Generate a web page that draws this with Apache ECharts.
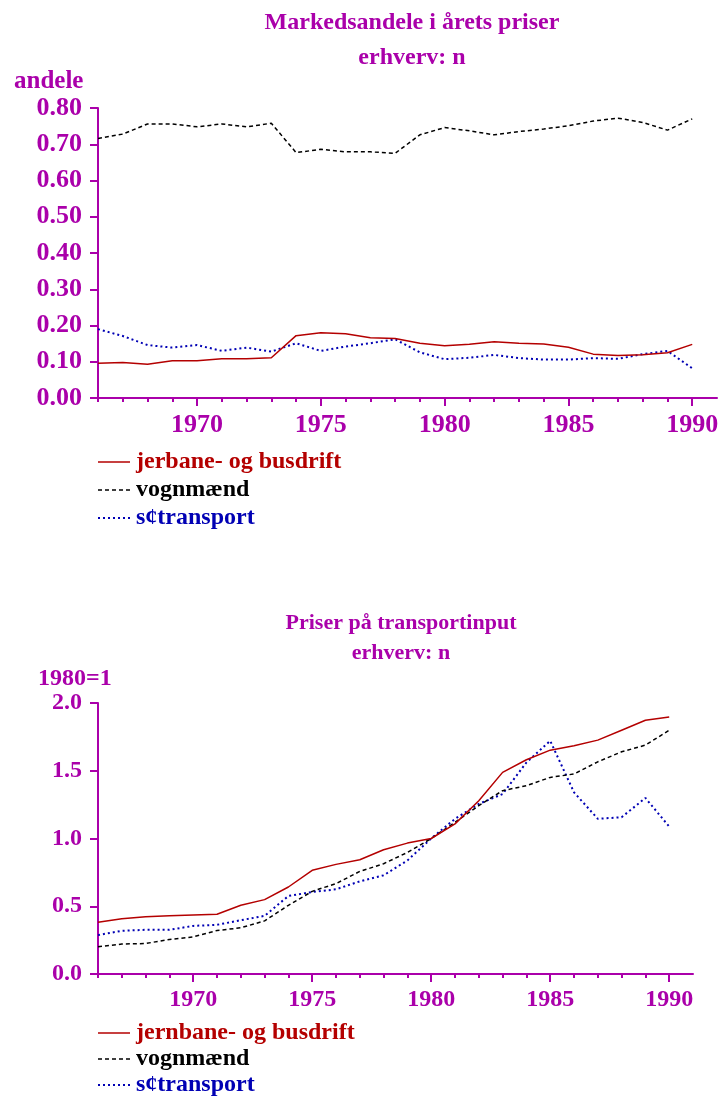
<!DOCTYPE html>
<html><head><meta charset="utf-8">
<script src="https://cdn.jsdelivr.net/npm/echarts@6/dist/echarts.min.js"></script>
<style>html,body{margin:0;padding:0;background:#fff;width:722px;height:1097px;overflow:hidden}
#a{position:absolute;left:0;top:0;width:722px;height:560px}
#b{position:absolute;left:0;top:560px;width:722px;height:537px}</style>
</head><body><div id="a"></div><div id="b"></div>
<script>
const years = [1966,1967,1968,1969,1970,1971,1972,1973,1974,1975,1976,1977,1978,1979,1980,1981,1982,1983,1984,1985,1986,1987,1988,1989,1990];
const majorYears = [1970,1975,1980,1985,1990];
// Chart 1: Markedsandele i årets priser
const shareRail = [0.096,0.098,0.093,0.103,0.103,0.108,0.108,0.111,0.172,0.180,0.177,0.166,0.164,0.151,0.144,0.148,0.155,0.151,0.149,0.140,0.121,0.117,0.119,0.125,0.148];
const shareTruck = [0.716,0.728,0.756,0.756,0.748,0.756,0.748,0.758,0.677,0.686,0.679,0.679,0.675,0.726,0.746,0.737,0.726,0.735,0.742,0.751,0.764,0.772,0.760,0.739,0.770];
const shareSea = [0.190,0.171,0.146,0.139,0.146,0.130,0.139,0.128,0.151,0.130,0.142,0.151,0.162,0.126,0.107,0.111,0.119,0.110,0.106,0.106,0.110,0.108,0.121,0.130,0.082];
// Chart 2: Priser på transportinput (1980=1)
const priceRail = [0.382,0.407,0.422,0.429,0.436,0.441,0.507,0.549,0.642,0.765,0.809,0.843,0.917,0.966,1.000,1.108,1.279,1.488,1.581,1.652,1.684,1.726,1.799,1.873,1.897];
const priceTruck = [0.201,0.221,0.225,0.255,0.274,0.321,0.341,0.392,0.507,0.610,0.667,0.757,0.814,0.897,1.000,1.120,1.243,1.353,1.390,1.451,1.476,1.566,1.640,1.689,1.799];
const priceSea = [0.287,0.319,0.326,0.326,0.355,0.363,0.397,0.429,0.576,0.605,0.625,0.684,0.728,0.838,1.000,1.145,1.255,1.328,1.561,1.721,1.341,1.145,1.157,1.299,1.088];

const names1 = ['jerbane- og busdrift','vognmænd','s¢transport'];
const names2 = ['jernbane- og busdrift','vognmænd','s¢transport'];

const MAG = '#aa00aa', RED = '#b40000', BLUE = '#0000b4', BLK = '#000000';
const FONT = '"Liberation Serif","Times New Roman",serif';
const pairs = arr => years.map((y,i)=>[y,arr[i]]);

function build(cfg){
  const styles = [
    {color:RED, type:'solid', width:1.5},
    {color:BLK, type:[4,3], width:1.5},
    {color:BLUE, type:[2,3], width:2}
  ];
  const dashes = [null, [4,3], [2,3]];
  const cols = [RED, BLK, BLUE];
  const legendEls = [];
  cfg.names.forEach((n,i)=>{
    const y = cfg.legendRows[i];
    legendEls.push({type:'line', shape:{x1:98, y1:y, x2:130, y2:y},
      style:{stroke:cols[i], lineWidth:i===2?2:1.5, lineDash:dashes[i]}});
    legendEls.push({type:'text', x:136, y:y,
      style:{text:n, font:'bold '+cfg.legendSize+'px '+FONT, fill:cols[i], textVerticalAlign:'middle', textAlign:'left'}});
  });
  return {
    animation:false,
    title:{text:cfg.title, left:cfg.titleX, top:cfg.titleTop, textAlign:'center',
      textStyle:{fontFamily:FONT, fontWeight:'bold', fontSize:cfg.titleSize, color:MAG, lineHeight:cfg.titleLH}},
    graphic:[{type:'text', left:cfg.unitX, top:cfg.unitTop,
      style:{text:cfg.unit, font:'bold '+cfg.unitSize+'px '+FONT, fill:MAG}}].concat(legendEls),
    grid:{left:98, top:cfg.gridTop, width:cfg.gridW, height:cfg.gridH, containLabel:false},
    xAxis:[
      {type:'value', min:1966, max:1991, gridIndex:0,
        axisLine:{show:true, lineStyle:{color:MAG, width:2}},
        axisTick:{show:true, customValues:years, length:4, lineStyle:{color:MAG, width:2}},
        axisLabel:{customValues:majorYears, color:MAG, fontFamily:FONT, fontWeight:'bold', fontSize:cfg.tickSize, margin:cfg.xMargin,
          formatter:v=>String(v)},
        splitLine:{show:false}},
      {type:'value', min:1966, max:1991, gridIndex:0, position:'bottom',
        axisLine:{show:false},
        axisTick:{show:true, customValues:majorYears, length:8, lineStyle:{color:MAG, width:2}},
        axisLabel:{show:false}, splitLine:{show:false}}
    ],
    yAxis:{type:'value', min:0, max:cfg.yMax, interval:cfg.yInt,
      axisLine:{show:true, lineStyle:{color:MAG, width:2}},
      axisTick:{show:true, length:8, lineStyle:{color:MAG, width:2}},
      axisLabel:{color:MAG, fontFamily:FONT, fontWeight:'bold', fontSize:cfg.tickSize, margin:16,
        formatter:v=>v.toFixed(cfg.dec)},
      splitLine:{show:false}},
    series:cfg.data.map((d,i)=>({type:'line', name:cfg.names[i], data:pairs(d), symbol:'none',
      lineStyle:styles[i], itemStyle:{color:cols[i]}, z:3-i}))
  };
}

const c1 = echarts.init(document.getElementById('a'), null, {renderer:'canvas'});
c1.setOption(build({
  title:'Markedsandele i årets priser\nerhverv: n', titleX:407, titleTop:0, titleSize:24, titleLH:35,
  unit:'andele', unitX:14, unitTop:69, unitSize:25,
  legendRows:[462,490,518], legendSize:24, names:names1,
  gridTop:108, gridW:619, gridH:290, tickSize:26, xMargin:14,
  yMax:0.8, yInt:0.1, dec:2,
  data:[shareRail, shareTruck, shareSea]
}));

const c2 = echarts.init(document.getElementById('b'), null, {renderer:'canvas'});
c2.setOption(build({
  title:'Priser på transportinput\nerhverv: n', titleX:396, titleTop:43, titleSize:22, titleLH:30,
  unit:'1980=1', unitX:38, unitTop:107, unitSize:24,
  legendRows:[473,499,525], legendSize:24, names:names2,
  gridTop:143, gridW:595, gridH:271, tickSize:24, xMargin:14,
  yMax:2.0, yInt:0.5, dec:1,
  data:[priceRail, priceTruck, priceSea]
}));
</script></body></html>
